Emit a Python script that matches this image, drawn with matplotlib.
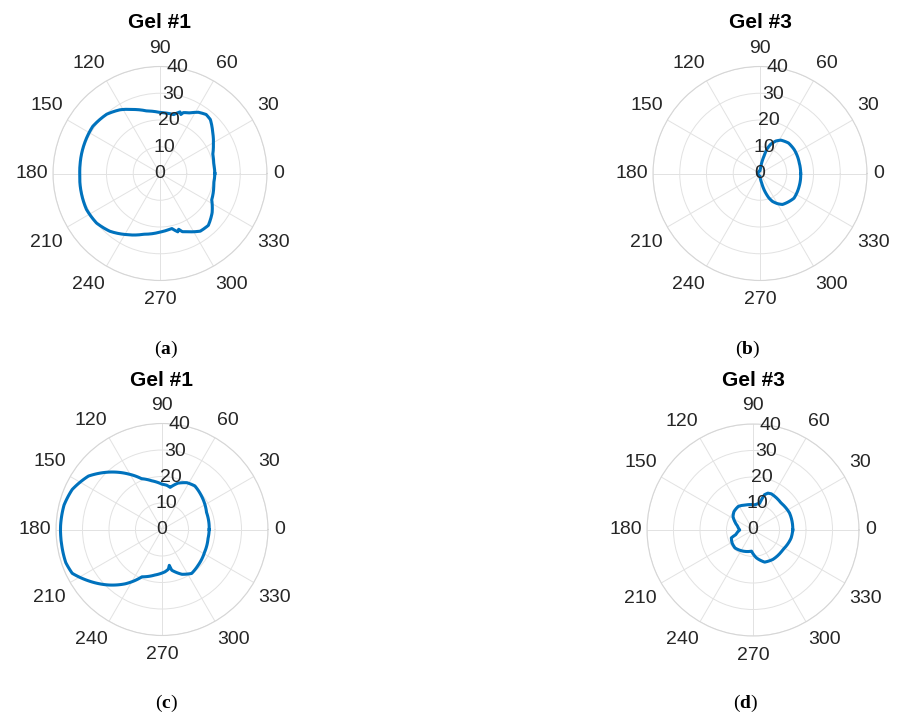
import numpy as np
import matplotlib
matplotlib.use("Agg")
import matplotlib.pyplot as plt

plt.rcParams['font.family'] = ['Liberation Sans', 'DejaVu Sans']
plt.rcParams['mathtext.fontset'] = 'custom'
plt.rcParams['mathtext.rm'] = 'Liberation Serif'
plt.rcParams['mathtext.bf'] = 'Liberation Serif:bold'

# pattern data: angle [deg], radius
theta_a = [0, 10, 20, 28, 38, 47, 52, 58, 64, 69, 70.5, 72, 77, 90, 102, 113, 122, 132,
           145, 158, 172, 180, 194, 206, 218, 229, 241, 255, 270, 282, 287, 288.5, 291,
           295, 305, 313, 323, 333, 350, 360]
r_a = [20.5, 20.4, 21.0, 22.6, 25.0, 27.6, 28.0, 27.0, 25.2, 24.4, 23.4, 24.2, 22.6, 22.8,
       23.9, 26.0, 28.1, 29.8, 30.7, 30.4, 30.1, 30.0, 30.3, 30.6, 30.1, 28.6, 26.1, 23.5,
       21.9, 21.0, 22.8, 22.0, 23.3, 24.0, 26.3, 26.5, 24.4, 21.7, 20.4, 20.5]

theta_b = [0, 15, 35, 47, 58, 64, 70, 74.5, 77, 81, 84, 90, 120, 180, 240, 270, 276, 280,
           284, 290, 294, 300, 306, 324, 342, 360]
r_b = [15.2, 15.2, 15.6, 15.6, 14.7, 13.5, 11.6, 9.3, 6.7, 4.0, 2.0, 1.0, 0.8, 0.8, 0.8,
       1.0, 2.3, 3.6, 6.2, 9.7, 11.4, 13.0, 14.3, 15.7, 15.4, 15.2]

theta_c = [0, 21, 41, 53, 62, 71, 79, 84, 90, 102, 112, 121, 133, 144, 156, 166, 178, 189,
           199, 206, 215, 226, 236, 247, 261, 274, 279, 281.5, 283.5, 294, 304, 315, 332,
           349, 360]
r_c = [17.8, 18.0, 19.6, 20.6, 20.0, 18.5, 16.2, 16.8, 17.1, 18.8, 20.7, 24.4, 29.6, 34.3,
       37.1, 38.1, 38.3, 38.3, 38.4, 37.7, 33.8, 29.1, 24.7, 19.4, 17.4, 16.0, 15.2, 13.8,
       15.8, 18.5, 20.0, 19.2, 18.2, 17.7, 17.8]

theta_d = [0, 25, 44, 63, 68, 72, 76, 86, 105, 122, 136, 146, 155, 165, 180, 195, 200, 212,
           225, 245, 266, 277, 290, 304, 327, 348, 360]
r_d = [15.0, 15.2, 14.7, 15.3, 15.0, 14.0, 10.4, 9.5, 9.8, 10.5, 10.0, 9.1, 7.6, 6.1, 5.0,
       6.7, 8.7, 9.3, 9.6, 8.8, 8.0, 10.6, 12.9, 13.4, 13.5, 14.7, 15.0]

titles = ['Gel #1', 'Gel #3', 'Gel #1', 'Gel #3']
letters = ['a', 'b', 'c', 'd']
theta_ticks = list(range(0, 360, 30))
r_ticks = [0, 10, 20, 30, 40]

W, H = 898, 718
fig = plt.figure(figsize=(W / 100, H / 100), dpi=100)

# centre x, centre y, radius (pixels), title y, caption x, caption y
layout = [(160, 173.5, 107, 22.5, 166, 349),
          (760, 173.5, 107, 22.5, 748, 349),
          (162, 529.5, 106, 380, 166, 703),
          (753, 530, 106, 380, 746, 703)]
series = [(theta_a, r_a), (theta_b, r_b), (theta_c, r_c), (theta_d, r_d)]

blue = '#0072BD'
txt = '#262626'

for i, ((cx, cy, R, ty, lx, ly), (th, rr)) in enumerate(zip(layout, series)):
    ax = fig.add_axes([(cx - R) / W, 1 - (cy + R) / H, 2 * R / W, 2 * R / H],
                      projection='polar')
    ln, = ax.plot(np.deg2rad(th), rr, color=blue, lw=2.2, solid_joinstyle='round')
    # let the polar transform draw the segments as arcs
    ln.get_path()._interpolation_steps = 30
    ax.set_ylim(0, 40)
    ax.set_xticks(np.deg2rad(theta_ticks))
    ax.set_yticks(r_ticks[1:])
    ax.set_xticklabels([])
    ax.set_yticklabels([])
    ax.grid(True, color='#e2e2e2', lw=0.7)
    ax.spines['polar'].set_color('#d6d6d6')
    ax.spines['polar'].set_linewidth(0.8)
    ax.tick_params(length=0)

    # angle labels outside the circle
    for a in theta_ticks:
        s = str(a)
        c, sn = np.cos(np.deg2rad(a)), np.sin(np.deg2rad(a))
        hw = 5.4 * len(s)
        dx = (R + 7) * c + (0.9 * hw * np.sign(c) if abs(c) > 0.1 else 0)
        if abs(sn) > 0.1:
            dy = (R + 7) * sn + (11 if sn > 0 else -12)
        else:
            dy = 0
        ax.annotate(s, xy=(0, 0), xytext=(dx * 0.72, dy * 0.72),
                    textcoords='offset points', ha='center', va='center',
                    fontsize=14, color=txt, annotation_clip=False)
    # radius labels
    for r in r_ticks:
        ax.text(np.deg2rad(80.7), r, str(r), ha='center', va='center',
                fontsize=14, color=txt)

    fig.text(cx / W, 1 - ty / H, titles[i], ha='center', va='center',
             fontsize=15, fontweight='bold', color='black')
    fig.text(lx / W, 1 - ly / H, r'($\mathbf{%s}$)' % letters[i], ha='center',
             va='center', fontsize=14, family='Liberation Serif', color='black')

fig.savefig('out.png', dpi=100)
